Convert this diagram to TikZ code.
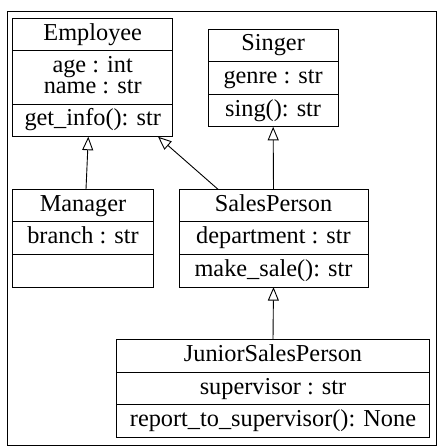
\documentclass[tikz,border=0pt]{standalone}
\usepackage{fontspec}
\setmainfont{Liberation Serif}
\usetikzlibrary{positioning,arrows.meta}

\begin{document}
\begin{tikzpicture}[>={Triangle[open,length=13.5pt,width=11pt]}, line width=0.9pt,
  font=\fontsize{24.3}{20.6}\selectfont,
  row/.style={draw, outer sep=0pt, inner xsep=0pt, inner ysep=0pt, text height=21.8pt, text depth=10.8pt},
  tallrow/.style={draw, outer sep=0pt, inner xsep=0pt, inner ysep=0pt, align=center}]
  \useasboundingbox (0,0) rectangle (444pt,-447pt);
  \draw (7pt,-11pt) rectangle (436pt,-445pt);
  % Employee
  \node[row, minimum width=160pt, anchor=north west] (emp) at (12.7pt,-18.3pt) {Employee};
  \node[tallrow, minimum width=160pt, below=0pt of emp] (emp-a)
    {\rule{0pt}{21.8pt}age : int\\ name : str\rule[-10.8pt]{0pt}{10.8pt}};
  \node[row, minimum width=160pt, below=0pt of emp-a] (emp-m) {get\_info(): str};
  % Singer
  \node[row, minimum width=129.7pt, anchor=north west] (singer) at (208.3pt,-29pt) {Singer};
  \node[row, minimum width=129.7pt, below=0pt of singer] (singer-a) {genre : str};
  \node[row, minimum width=129.7pt, below=0pt of singer-a] (singer-m) {sing(): str};
  % Manager
  \node[row, minimum width=141.4pt, anchor=north west] (mgr) at (12.3pt,-189.3pt) {Manager};
  \node[row, minimum width=141.4pt, below=0pt of mgr] (mgr-a) {branch : str};
  \node[row, minimum width=141.4pt, below=0pt of mgr-a] (mgr-m) {};
  % SalesPerson
  \node[row, minimum width=189pt, anchor=north west] (sp) at (179pt,-189.3pt) {SalesPerson};
  \node[row, minimum width=189pt, below=0pt of sp] (sp-a) {department : str};
  \node[row, minimum width=189pt, below=0pt of sp-a] (sp-m) {make\_sale(): str};
  % JuniorSalesPerson
  \node[row, minimum width=312.6pt, anchor=north west] (jsp) at (116.7pt,-339.7pt) {JuniorSalesPerson};
  \node[row, minimum width=312.6pt, below=0pt of jsp] (jsp-a) {supervisor : str};
  \node[row, minimum width=312.6pt, below=0pt of jsp-a] (jsp-m) {report\_to\_supervisor(): None};
  % inheritance
  \draw[->] ([xshift=3pt]mgr.north) -- ([xshift=-4.4pt]emp-m.south);
  \draw[->] ([xshift=-55.5pt]sp.north) -- ([xshift=-14.7pt]emp-m.south east);
  \draw[->] (sp.north) -- (singer-m.south);
  \draw[->] (jsp.north) -- (sp-m.south);
\end{tikzpicture}
\end{document}
